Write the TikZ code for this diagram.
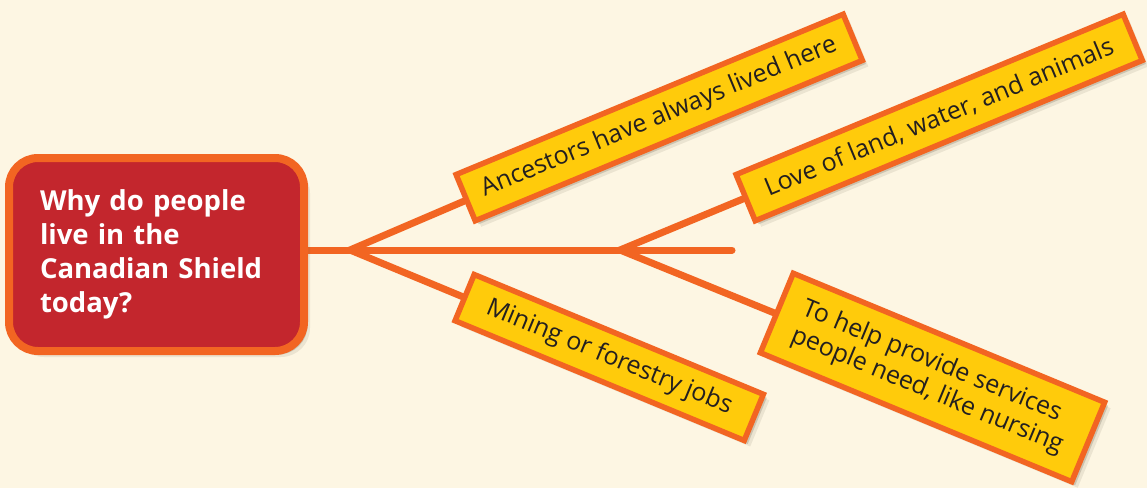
\documentclass[tikz,border=0pt]{standalone}
\usepackage{fontspec}
\setmainfont{Open Sans}
\usetikzlibrary{shadows}
\definecolor{bgc}{HTML}{FDF6E3}
\definecolor{org}{HTML}{F26522}
\definecolor{redc}{HTML}{C3262D}
\definecolor{yel}{HTML}{FFCB0B}
\definecolor{txt}{HTML}{231F20}
\definecolor{shc}{HTML}{6E6450}
\pgfdeclarelayer{bg}
\pgfdeclarelayer{lines}
\pgfsetlayers{bg,lines,main}
\begin{document}
\begin{tikzpicture}[x=1pt,y=-1pt,
  shad/.style={
    drop shadow={shadow xshift=6pt, shadow yshift=-6pt, opacity=0.12, fill=shc},
    drop shadow={shadow xshift=3.5pt, shadow yshift=-3.5pt, opacity=0.25, fill=shc}},
  leaf/.style={draw=org, fill=yel, line width=5.5pt, text=txt, inner sep=0pt,
    font=\fontsize{25}{29}\selectfont, minimum height=50pt, shad},
  question/.style={draw=org, fill=redc, line width=8pt, rounded corners=29pt,
    minimum width=295pt, minimum height=193pt, text width=233pt, inner xsep=31pt,
    align=left, text=white, font=\bfseries\fontsize{27.5}{34}\selectfont, shad},
  conn/.style={draw=org, line width=7pt, line join=miter}]
\begin{pgfonlayer}{bg}
  \fill[bgc] (0,0) rectangle (1147,488);
\end{pgfonlayer}
\useasboundingbox (0,0) rectangle (1147,488);

\coordinate (j1) at (350,250);
\coordinate (j2) at (620,250);
\coordinate (mend) at (732,250);

\node[question] (main) at (156.5,254.5) {Why do people\\live in the\\Canadian Shield\\today?};

\node[leaf, rotate=22.5, minimum width=419pt] (anc) at (659.2,117.5) {Ancestors have always lived here};
\node[leaf, rotate=22.5, minimum width=419pt] (love) at (939.2,117.5) {Love of land, water, and animals};
\node[leaf, rotate=-22.5, minimum width=313pt] (mine) at (609.2,357.5) {Mining or forestry jobs};
\node[leaf, rotate=-22.5, minimum width=337pt, minimum height=86pt, align=left] (help) at (932.5,377.5) {To help provide services\\people need, like nursing};

\begin{pgfonlayer}{lines}
  \draw[conn, line cap=round] (j1 -| main.east) -- (mend);
  \draw[conn] (anc.center) -- (j1) -- (mine.center);
  \draw[conn] (love.center) -- (j2) -- (help.center);
\end{pgfonlayer}
\end{tikzpicture}
\end{document}
